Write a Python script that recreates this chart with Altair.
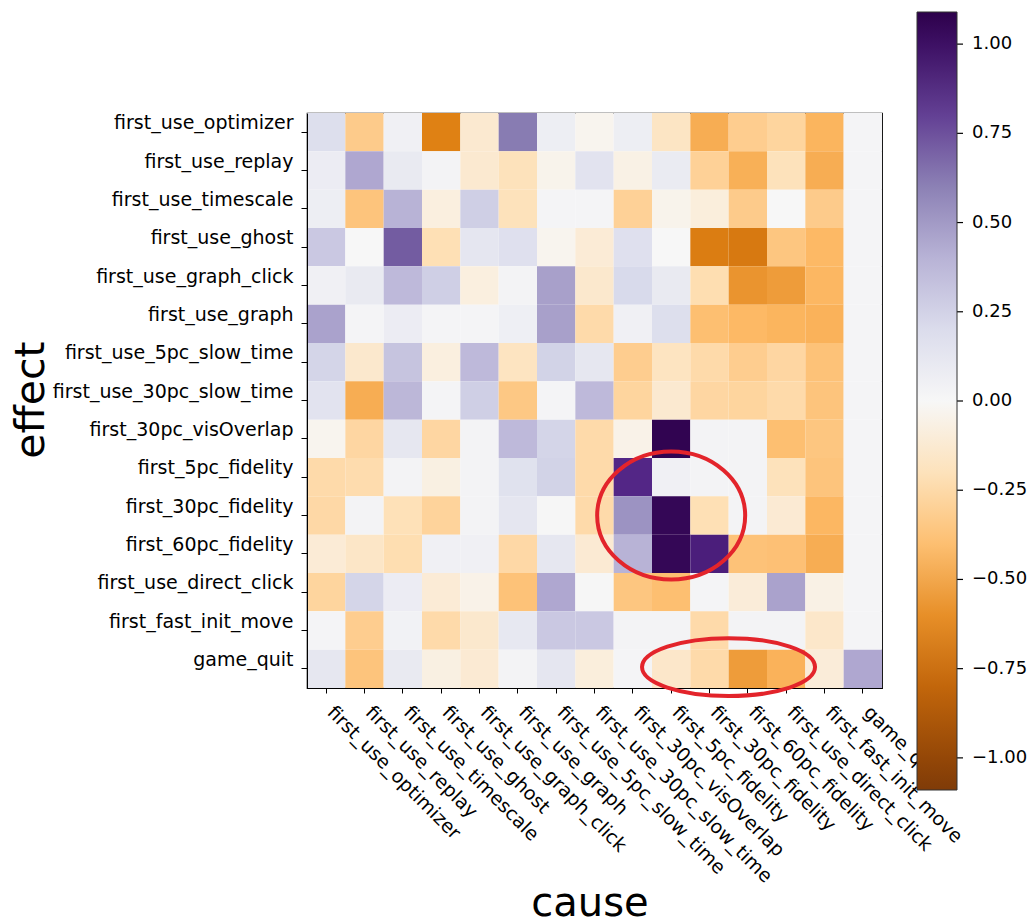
import altair as alt
import pandas as pd

labels = [
    "first_use_optimizer", "first_use_replay", "first_use_timescale", "first_use_ghost",
    "first_use_graph_click", "first_use_graph", "first_use_5pc_slow_time",
    "first_use_30pc_slow_time", "first_30pc_visOverlap", "first_5pc_fidelity",
    "first_30pc_fidelity", "first_60pc_fidelity", "first_use_direct_click",
    "first_fast_init_move", "game_quit",
]

# one list per effect row, values per cause column (left to right)
row_optimizer = [0.18, -0.33, 0.05, -0.66, -0.13, 0.62, 0.07, -0.03, 0.07, -0.17, -0.48, -0.32, -0.28, -0.45, 0.02]
row_replay = [0.08, 0.45, 0.10, 0.03, -0.13, -0.20, -0.04, 0.15, -0.06, 0.09, -0.30, -0.47, -0.20, -0.48, 0.02]
row_timescale = [0.07, -0.37, 0.40, -0.08, 0.27, -0.20, 0.02, 0.02, -0.30, -0.04, -0.09, -0.33, 0.00, -0.33, 0.02]
row_ghost = [0.30, 0.00, 0.72, -0.22, 0.13, 0.17, -0.03, -0.11, 0.17, 0.00, -0.68, -0.70, -0.36, -0.43, 0.02]
row_graph_click = [0.05, 0.10, 0.37, 0.27, -0.08, 0.03, 0.48, -0.14, 0.22, 0.10, -0.23, -0.58, -0.55, -0.44, 0.02]
row_graph = [0.47, 0.02, 0.08, 0.02, 0.02, 0.06, 0.48, -0.25, 0.05, 0.18, -0.40, -0.43, -0.45, -0.46, 0.02]
row_5pc_slow = [0.24, -0.14, 0.32, -0.08, 0.37, -0.18, 0.25, 0.12, -0.32, -0.18, -0.25, -0.32, -0.27, -0.38, 0.02]
row_30pc_slow = [0.15, -0.48, 0.38, 0.02, 0.27, -0.35, 0.02, 0.37, -0.28, -0.13, -0.27, -0.28, -0.25, -0.37, 0.02]
row_visoverlap = [-0.03, -0.27, 0.12, -0.27, 0.03, 0.37, 0.24, -0.25, -0.05, 1.07, 0.03, 0.03, -0.40, -0.36, 0.02]
row_5pc_fid = [-0.25, -0.24, 0.03, -0.07, 0.03, 0.16, 0.25, -0.25, 0.88, 0.05, 0.03, 0.03, -0.20, -0.37, 0.02]
row_30pc_fid = [-0.26, 0.03, -0.21, -0.29, 0.03, 0.13, 0.01, -0.25, 0.53, 1.05, -0.22, 0.03, -0.12, -0.44, 0.02]
row_60pc_fid = [-0.11, -0.16, -0.23, 0.05, 0.05, -0.26, 0.12, -0.12, 0.40, 1.05, 0.92, -0.38, -0.39, -0.48, 0.02]
row_direct_click = [-0.28, 0.24, 0.08, -0.11, -0.05, -0.38, 0.45, 0.01, -0.36, -0.40, 0.02, -0.10, 0.47, -0.06, 0.02]
row_fast_init = [0.02, -0.32, 0.04, -0.25, -0.14, 0.11, 0.30, 0.30, 0.03, 0.03, -0.25, 0.03, 0.03, -0.15, 0.02]
row_game_quit = [0.12, -0.37, 0.10, -0.07, -0.12, 0.03, 0.13, -0.09, 0.02, -0.15, -0.25, -0.55, -0.46, -0.10, 0.45]

rows = [row_optimizer, row_replay, row_timescale, row_ghost, row_graph_click, row_graph,
        row_5pc_slow, row_30pc_slow, row_visoverlap, row_5pc_fid, row_30pc_fid,
        row_60pc_fid, row_direct_click, row_fast_init, row_game_quit]

colorbar_ticks = [-1.0, -0.75, -0.5, -0.25, 0.0, 0.25, 0.5, 0.75, 1.0]

# matplotlib PuOr (low = orange, high = purple)
puor = ["#7f3b08", "#b35806", "#e08214", "#fdb863", "#fee0b6", "#f7f7f7",
        "#d8daeb", "#b2abd2", "#8073ac", "#542788", "#2d004b"]
vlim = 1.09
domain = [-vlim + i * (2 * vlim / 10) for i in range(11)]

records = []
for effect, vals in zip(labels, rows):
    for cause, v in zip(labels, vals):
        records.append({"cause": cause, "effect": effect, "value": v})
df = pd.DataFrame(records)

# annotation ellipses (red) around highlighted cells
ellipse1 = pd.DataFrame({"cause": ["first_5pc_fidelity"], "effect": ["first_30pc_fidelity"]})
ellipse2 = pd.DataFrame({"cause": ["first_30pc_fidelity"], "effect": ["game_quit"]})
ticks_df = pd.DataFrame({"tick": colorbar_ticks})

FONT = "DejaVu Sans"

x_enc = alt.X(
    "cause:N", sort=labels, title="cause",
    scale=alt.Scale(paddingInner=0, paddingOuter=0),
    axis=alt.Axis(
        labelAngle=45, labelAlign="left", labelBaseline="alphabetic",
        labelPadding=20, labelFontSize=19, labelLimit=500, labelColor="black",
        tickSize=5, tickColor="black", domainColor="black", zindex=0,
        titleFontSize=40, titleFontWeight="normal", titleColor="black",
        titleX=282.5, titleY=227, titleBaseline="alphabetic", titleAlign="center",
    ),
)
y_enc = alt.Y(
    "effect:N", sort=labels, title="effect",
    scale=alt.Scale(paddingInner=0, paddingOuter=0),
    axis=alt.Axis(
        labelFontSize=19, labelPadding=8, labelOffset=-9, labelLimit=500,
        labelColor="black", tickSize=6, tickColor="black", domainColor="black",
        titleFontSize=41, titleFontWeight="normal", titleColor="black",
        titleAngle=270, titleX=-264, titleY=286.5, titleBaseline="alphabetic",
        titleAlign="center",
    ),
)

heat = alt.Chart(df).mark_rect().encode(
    x=x_enc,
    y=y_enc,
    color=alt.Color(
        "value:Q",
        scale=alt.Scale(domain=domain, range=puor, interpolate="rgb"),
        legend=alt.Legend(
            title=None, orient="none", legendX=610, legendY=-101,
            direction="vertical", gradientLength=778, gradientThickness=40,
            gradientStrokeColor="#333333", gradientStrokeWidth=1,
            values=colorbar_ticks, format=".2f", labelFontSize=18,
            labelOffset=15, labelColor="black", labelFont=FONT, padding=0,
            zindex=5,
        ),
    ),
)

e1 = alt.Chart(ellipse1).mark_point(
    shape="M -1 0 A 1 0.865 0 1 0 1 0 A 1 0.865 0 1 0 -1 0 Z",
    size=148 ** 2, filled=False, stroke="#e3242b", strokeWidth=4, opacity=1,
).encode(x=alt.X("cause:N", sort=labels), y=alt.Y("effect:N", sort=labels))

# second ellipse sits on the border between two columns: path drawn off-centre
e2 = alt.Chart(ellipse2).mark_point(
    shape="M -0.78 -0.02 A 1 0.335 0 1 0 1.22 -0.02 A 1 0.335 0 1 0 -0.78 -0.02 Z",
    size=173 ** 2, filled=False, stroke="#e3242b", strokeWidth=4, opacity=1,
).encode(x=alt.X("cause:N", sort=labels), y=alt.Y("effect:N", sort=labels))

# small tick marks on the right edge of the colorbar
cb_ticks = alt.Chart(ticks_df).mark_rule(color="black", strokeWidth=1.2).encode(
    y=alt.Y("tick:Q", scale=alt.Scale(domain=[-vlim, vlim], range=[677, -101]), axis=None),
    x=alt.value(650), x2=alt.value(656),
)

main = alt.layer(heat, e1, e2)

chart = alt.layer(main, cb_ticks).resolve_scale(y="independent").properties(
    width=575, height=575,
    autosize=alt.AutoSizeParams(type="none"),
    padding={"left": 307, "top": 113, "right": 150, "bottom": 235},
    background="white",
).configure(font=FONT).configure_view(stroke="black", strokeWidth=1.2)

chart.save("out.html", embed_options={"renderer": "svg", "actions": False})
